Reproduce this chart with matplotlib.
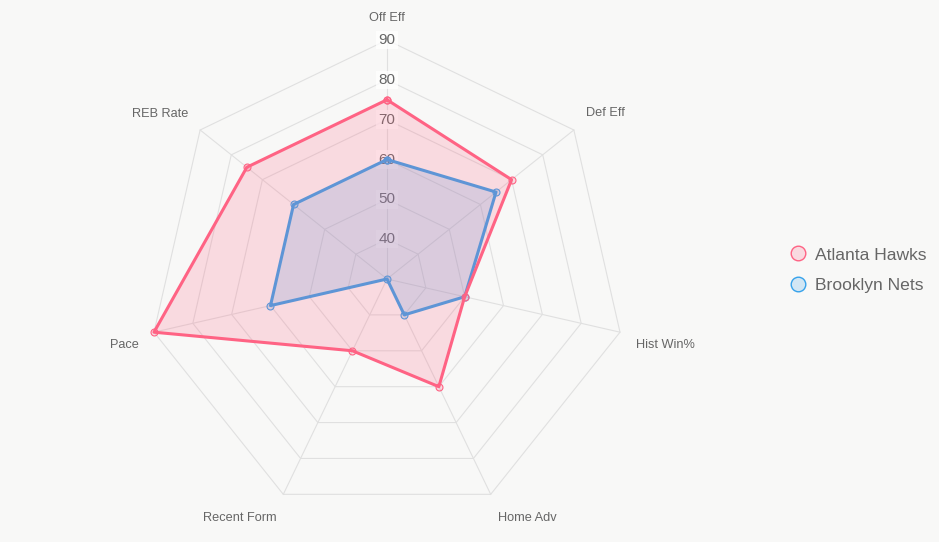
import numpy as np
import matplotlib
matplotlib.use("Agg")
import matplotlib.pyplot as plt
from matplotlib.lines import Line2D

# datos
categorias = ["Off Eff", "Def Eff", "Hist Win%", "Home Adv", "Recent Form", "Pace", "REB Rate"]
atlanta = [75, 70, 50, 60, 50, 90, 75]
brooklyn = [60, 65, 50, 40, 30, 60, 60]
equipos = ["Atlanta Hawks", "Brooklyn Nets"]
ticks = [40, 50, 60, 70, 80, 90]
r_min, r_max = 30, 90

plt.rcParams['font.family'] = ['Liberation Sans', 'DejaVu Sans']

rojo = "#FF6384"
azul = "#36A2EB"
gris = "#666666"
fondo = "#F8F8F7"

fig = plt.figure(figsize=(9.39, 5.42), dpi=100, facecolor=fondo)
W, H = 939, 542
cx, cy, rad = 387, 279, 239
ax = fig.add_axes([(cx - rad) / W, (H - cy - rad) / H, 2 * rad / W, 2 * rad / H], projection="polar")
ax.set_facecolor("none")
ax.set_theta_zero_location("N")
ax.set_theta_direction(-1)
ax.set_ylim(r_min, r_max)
ax.grid(False)
ax.set_xticks([])
ax.set_yticks([])
ax.spines["polar"].set_visible(False)

n = len(categorias)
angulos = np.linspace(0, 2 * np.pi, n, endpoint=False)
cerrado = np.append(angulos, angulos[0])

# rejilla poligonal
for t in ticks:
    ax.plot(cerrado, [t] * (n + 1), color="#E0E0E0", lw=0.8, zorder=1, clip_on=False)
for a in angulos:
    ax.plot([a, a], [r_min, r_max], color="#E0E0E0", lw=0.8, zorder=1, clip_on=False)

# etiquetas de escala
for t in ticks:
    ax.text(0, t, str(t), ha="center", va="center", fontsize=11, color=gris, zorder=2,
            bbox=dict(boxstyle="square,pad=0.15", fc=(1, 1, 1, 0.75), ec="none"))

# series (Brooklyn primero, Atlanta encima)
for vals, col, z in [(brooklyn, azul, 3), (atlanta, rojo, 5)]:
    v = vals + vals[:1]
    ax.fill(cerrado, v, color=col, alpha=0.2, lw=0, zorder=z)
    ax.plot(cerrado, v, color=col, lw=2.2, zorder=z + 0.5, clip_on=False,
            marker="o", markersize=5, markerfacecolor=matplotlib.colors.to_rgba(col, 0.2),
            markeredgecolor=col, markeredgewidth=0.8)

# etiquetas de ejes
offsets = [(0, 22, "center"), (12, 17, "left"), (16, -13, "left"), (7, -24, "left"),
           (-7, -24, "right"), (-15, -13, "right"), (-12, 16, "right")]
for a, lab, (dx, dy, ha) in zip(angulos, categorias, offsets):
    ax.annotate(lab, xy=(a, r_max), xytext=(dx, dy), textcoords="offset pixels",
                ha=ha, va="center", fontsize=9.2, color=gris, annotation_clip=False)

# leyenda
handles = [Line2D([], [], linestyle="none", marker="o", markersize=10.5,
                  markerfacecolor=matplotlib.colors.to_rgba(c, 0.2), markeredgecolor=c,
                  markeredgewidth=1) for c in (rojo, azul)]
fig.legend(handles, equipos, loc="center left", bbox_to_anchor=(789 / W, 1 - 270 / H),
           frameon=False, fontsize=12.6, labelcolor=gris, handlelength=1.0,
           handletextpad=0.5, labelspacing=0.85, borderpad=0, borderaxespad=0)

fig.savefig("out.png", dpi=100, facecolor=fondo)
